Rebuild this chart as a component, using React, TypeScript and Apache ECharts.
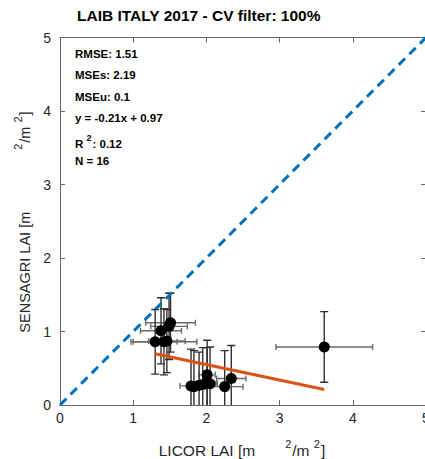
import React, { useEffect, useRef } from "react";
import * as echarts from "echarts";

// LICOR (ground) vs SENSAGRI (satellite) LAI, m2/m2, with one-sigma spreads
const licor = [1.51, 1.38, 1.49, 1.30, 1.42, 1.46, 2.01, 2.34, 1.79, 1.83, 1.95, 2.01, 2.05, 2.25, 3.61, 1.90];
const sensagri = [1.12, 1.01, 1.07, 0.86, 0.86, 0.87, 0.41, 0.36, 0.26, 0.25, 0.28, 0.29, 0.29, 0.25, 0.79, 0.27];
const licorErr = [0.34, 0.28, 0.25, 0.30, 0.45, 0.25, 0.11, 0.20, 0.15, 0.08, 0.15, 0.12, 0.10, 0.25, 0.66, 0.10];
const sensagriErr = [0.40, 0.45, 0.45, 0.44, 0.45, 0.43, 0.47, 0.45, 0.50, 0.49, 0.50, 0.49, 0.50, 0.49, 0.48, 0.45];

// fitted regression reported in the stats box
const fitSlope = -0.21;
const fitIntercept = 0.97;

const axisTicks = [0, 1, 2, 3, 4, 5];

const statLines = ["RMSE: 1.51", "MSEs: 2.19", "MSEu: 0.1", "y = -0.21x + 0.97", "R2: 0.12", "N = 16"];

const FONT = "'Liberation Sans', Arial, Helvetica, sans-serif";

export default function App() {
  const ref = useRef<HTMLDivElement>(null);

  useEffect(() => {
    if (!ref.current) return;
    const chart = echarts.init(ref.current, null, { renderer: "svg" });

    const points = licor.map((x, i) => [x, sensagri[i]]);
    const bars = licor.map((x, i) => [x, sensagri[i], licorErr[i], sensagriErr[i]]);
    const xMin = Math.min(...licor);
    const xMax = Math.max(...licor);
    const fitLine = [
      [xMin, fitSlope * xMin + fitIntercept],
      [xMax, fitSlope * xMax + fitIntercept],
    ];

    const axisColor = "#666666";
    const labelColor = "#262626";

    const baseAxis = {
      type: "value",
      min: axisTicks[0],
      max: axisTicks[axisTicks.length - 1],
      interval: 1,
      splitLine: { show: false },
      axisLine: { show: true, onZero: false, lineStyle: { color: axisColor, width: 1 } },
      axisTick: { show: true, inside: true, length: 5, lineStyle: { color: axisColor } },
    };

    const statGraphics = statLines.map((s, i) => {
      const isR2 = s.startsWith("R2");
      return {
        type: "text",
        left: 75,
        top: 48 + i * 21.4,
        style: {
          text: isR2 ? "{a|R }{s|2}{a|" + s.slice(2) + "}" : s,
          font: `bold 11.5px ${FONT}`,
          fill: "#000",
          rich: isR2
            ? {
                a: { font: `bold 11.5px ${FONT}`, fill: "#000", verticalAlign: "bottom" },
                s: { font: `bold 9px ${FONT}`, fill: "#000", verticalAlign: "top", padding: [0, 1, 7, 0] },
              }
            : undefined,
        },
      };
    });

    chart.setOption({
      animation: false,
      backgroundColor: "#ffffff",
      grid: {
        left: 60,
        top: 37.5,
        width: 366,
        height: 367.5,
        containLabel: false,
        outerBoundsMode: "none",
      },
      xAxis: [
        {
          ...baseAxis,
          position: "bottom",
          axisLabel: {
            show: true,
            color: labelColor,
            fontSize: 14,
            fontFamily: FONT,
            margin: 6,
          },
        },
        { ...baseAxis, position: "top", axisLabel: { show: false } },
      ],
      yAxis: [
        {
          ...baseAxis,
          position: "left",
          axisLabel: {
            show: true,
            color: labelColor,
            fontSize: 14,
            fontFamily: FONT,
            margin: 9,
            padding: [0, 0, 6, 0],
          },
        },
        { ...baseAxis, position: "right", axisLabel: { show: false } },
      ],
      series: [
        {
          type: "custom",
          name: "spread",
          clip: true,
          z: 1,
          data: bars,
          renderItem: (_params: any, api: any) => {
            const x = api.value(0);
            const y = api.value(1);
            const ex = api.value(2);
            const ey = api.value(3);
            const top = api.coord([x, y + ey]);
            const bot = api.coord([x, y - ey]);
            const lft = api.coord([x - ex, y]);
            const rgt = api.coord([x + ex, y]);
            const vStyle = { stroke: "#303030", lineWidth: 1.4 };
            const hStyle = { stroke: "#6a6a6a", lineWidth: 1.4 };
            const vc = 4;
            const hc = 3;
            return {
              type: "group",
              children: [
                { type: "line", shape: { x1: lft[0], y1: lft[1], x2: rgt[0], y2: rgt[1] }, style: hStyle },
                { type: "line", shape: { x1: lft[0], y1: lft[1] - hc, x2: lft[0], y2: lft[1] + hc }, style: hStyle },
                { type: "line", shape: { x1: rgt[0], y1: rgt[1] - hc, x2: rgt[0], y2: rgt[1] + hc }, style: hStyle },
                { type: "line", shape: { x1: top[0], y1: top[1], x2: bot[0], y2: bot[1] }, style: vStyle },
                { type: "line", shape: { x1: top[0] - vc, y1: top[1], x2: top[0] + vc, y2: top[1] }, style: vStyle },
                { type: "line", shape: { x1: bot[0] - vc, y1: bot[1], x2: bot[0] + vc, y2: bot[1] }, style: vStyle },
              ],
            };
          },
        },
        {
          type: "line",
          name: "1:1",
          z: 2,
          data: [
            [axisTicks[0], axisTicks[0]],
            [axisTicks[axisTicks.length - 1], axisTicks[axisTicks.length - 1]],
          ],
          symbol: "none",
          lineStyle: { color: "#0072BD", width: 3, type: [9, 6] },
        },
        {
          type: "line",
          name: "fit",
          z: 2,
          data: fitLine,
          symbol: "none",
          lineStyle: { color: "#D95319", width: 3 },
        },
        {
          type: "scatter",
          name: "LAI",
          z: 3,
          data: points,
          symbol: "circle",
          symbolSize: 11,
          itemStyle: { color: "#000000", opacity: 1 },
        },
      ],
      graphic: [
        {
          type: "text",
          left: 77,
          top: 7,
          style: {
            text: "LAIB ITALY 2017 - CV filter: 100%",
            font: `bold 15.5px ${FONT}`,
            fill: "#000",
          },
        },
        {
          type: "text",
          x: 242,
          y: 448,
          style: {
            text: "{a|LICOR LAI [m}{g| }{s|2}{a|/m }{s|2}{a|]}",
            align: "center",
            verticalAlign: "middle",
            rich: {
              a: { font: `15.5px ${FONT}`, fill: labelColor, verticalAlign: "bottom", lineHeight: 18 },
              g: { width: 30, font: `15px ${FONT}` },
              s: { font: `11px ${FONT}`, fill: labelColor, verticalAlign: "top", padding: [0, 1, 9, 0] },
            },
          },
        },
        {
          type: "text",
          x: 22,
          y: 222,
          rotation: Math.PI / 2,
          style: {
            text: "{a|SENSAGRI LAI [m}{g| }{s|2}{a|/m }{s|2}{a|]}",
            align: "center",
            verticalAlign: "middle",
            rich: {
              a: { font: `14.5px ${FONT}`, fill: labelColor, verticalAlign: "bottom", lineHeight: 18 },
              g: { width: 62, font: `14.5px ${FONT}` },
              s: { font: `11px ${FONT}`, fill: labelColor, verticalAlign: "top", padding: [0, 1, 9, 0] },
            },
          },
        },
        ...statGraphics,
      ],
    });

    return () => chart.dispose();
  }, []);

  return (
    <div
      ref={ref}
      style={{ position: "fixed", left: 0, top: 0, width: 425, height: 459, background: "#fff" }}
    />
  );
}
